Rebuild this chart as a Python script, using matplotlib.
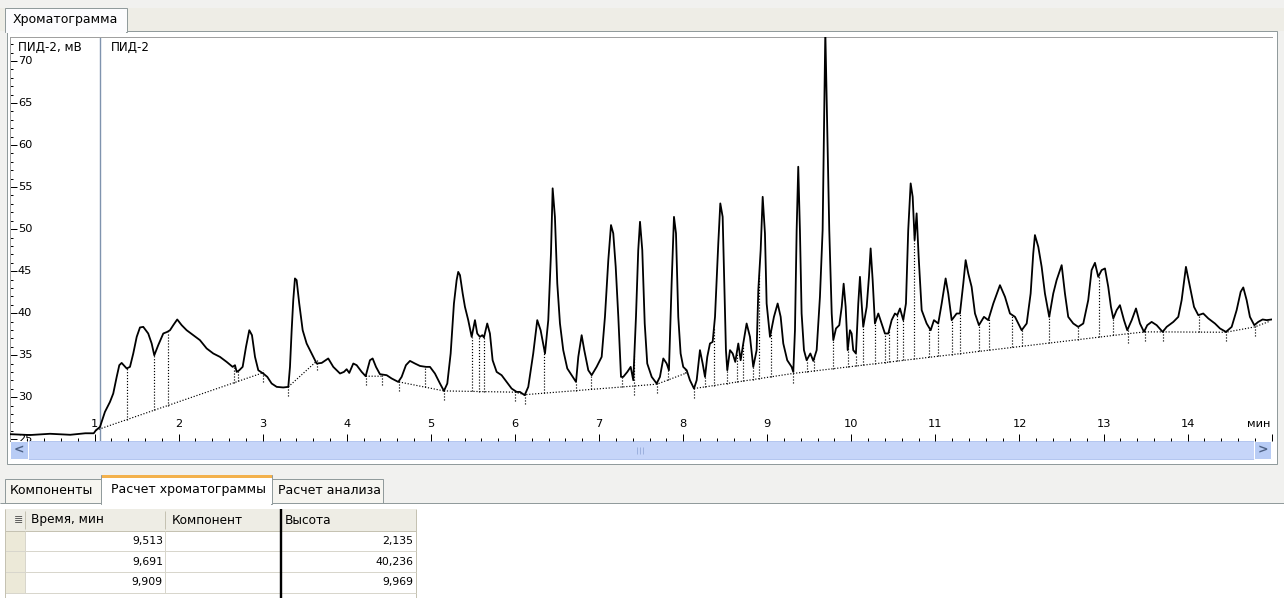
import numpy as np
import matplotlib
matplotlib.use("Agg")
import matplotlib.pyplot as plt
from matplotlib.patches import Rectangle
from matplotlib.transforms import blended_transform_factory

plt.rcParams['font.family'] = ['DejaVu Sans']

# ---------------- data ----------------
# detector ПИД-2 trace: retention time (min) and signal (mV)
time_min = [
    0.000, 0.230, 0.470, 0.710, 0.890, 0.990, 1.016, 1.064, 1.123, 1.183, 1.222, 1.263, 1.294, 1.322,
    1.382, 1.421, 1.460, 1.501, 1.540, 1.579, 1.638, 1.679, 1.710, 1.757, 1.817, 1.864, 1.897, 1.936,
    1.983, 2.036, 2.095, 2.174, 2.253, 2.333, 2.412, 2.491, 2.571, 2.642, 2.670, 2.690, 2.721, 2.761,
    2.801, 2.840, 2.872, 2.908, 2.947, 3.006, 3.054, 3.106, 3.166, 3.244, 3.304, 3.324, 3.344, 3.363,
    3.383, 3.403, 3.434, 3.475, 3.522, 3.582, 3.641, 3.701, 3.760, 3.779, 3.839, 3.919, 3.966, 3.998,
    4.029, 4.077, 4.117, 4.177, 4.224, 4.275, 4.307, 4.347, 4.394, 4.474, 4.533, 4.612, 4.652, 4.703,
    4.751, 4.810, 4.870, 4.941, 4.989, 5.048, 5.108, 5.155, 5.195, 5.235, 5.274, 5.306, 5.325, 5.346,
    5.378, 5.405, 5.444, 5.485, 5.524, 5.551, 5.583, 5.611, 5.631, 5.670, 5.702, 5.734, 5.782, 5.841,
    5.901, 5.960, 6.020, 6.059, 6.115, 6.158, 6.217, 6.265, 6.305, 6.357, 6.396, 6.428, 6.448, 6.475,
    6.503, 6.535, 6.574, 6.622, 6.674, 6.726, 6.753, 6.793, 6.824, 6.872, 6.912, 6.971, 7.031, 7.070,
    7.110, 7.142, 7.169, 7.198, 7.229, 7.261, 7.288, 7.336, 7.376, 7.407, 7.439, 7.466, 7.487, 7.514,
    7.543, 7.573, 7.626, 7.685, 7.724, 7.764, 7.804, 7.831, 7.863, 7.891, 7.915, 7.942, 7.970, 8.001,
    8.042, 8.081, 8.129, 8.161, 8.200, 8.232, 8.260, 8.287, 8.319, 8.351, 8.379, 8.418, 8.442, 8.470,
    8.489, 8.509, 8.525, 8.557, 8.589, 8.620, 8.656, 8.684, 8.715, 8.755, 8.795, 8.834, 8.874, 8.894,
    8.922, 8.946, 8.973, 8.993, 9.033, 9.080, 9.124, 9.160, 9.191, 9.238, 9.290, 9.310, 9.330, 9.350,
    9.369, 9.389, 9.409, 9.437, 9.469, 9.513, 9.548, 9.588, 9.627, 9.659, 9.691, 9.738, 9.767, 9.786,
    9.818, 9.857, 9.886, 9.909, 9.933, 9.957, 9.984, 10.004, 10.023, 10.055, 10.083, 10.103, 10.123,
    10.142, 10.183, 10.210, 10.230, 10.254, 10.281, 10.321, 10.361, 10.400, 10.440, 10.480, 10.519,
    10.547, 10.579, 10.618, 10.650, 10.677, 10.706, 10.730, 10.753, 10.777, 10.801, 10.837, 10.896,
    10.944, 10.983, 11.034, 11.075, 11.122, 11.153, 11.194, 11.253, 11.292, 11.332, 11.360, 11.391,
    11.431, 11.471, 11.518, 11.578, 11.629, 11.689, 11.768, 11.828, 11.887, 11.947, 12.026, 12.086,
    12.133, 12.164, 12.184, 12.224, 12.264, 12.303, 12.354, 12.402, 12.442, 12.502, 12.541, 12.580,
    12.640, 12.699, 12.759, 12.818, 12.858, 12.898, 12.937, 12.977, 13.017, 13.056, 13.088, 13.116,
    13.156, 13.195, 13.243, 13.282, 13.335, 13.386, 13.433, 13.481, 13.520, 13.572, 13.632, 13.703,
    13.751, 13.830, 13.889, 13.929, 13.980, 14.028, 14.076, 14.127, 14.186, 14.246, 14.325, 14.385,
    14.456, 14.524, 14.583, 14.631, 14.662, 14.702, 14.741, 14.793, 14.840, 14.892, 14.940, 15.000,
]
signal_mv = [
    25.60, 25.50, 25.65, 25.53, 25.71, 25.71, 26.07, 26.46, 28.25, 29.44, 30.44, 32.42, 33.81, 34.08,
    33.42, 33.61, 35.20, 37.18, 38.30, 38.37, 37.58, 36.39, 34.99, 36.19, 37.58, 37.77, 37.97, 38.57,
    39.25, 38.57, 37.97, 37.38, 36.79, 35.80, 35.20, 34.80, 34.20, 33.61, 33.81, 33.01, 33.21, 33.61,
    35.99, 37.97, 37.38, 34.80, 33.21, 32.82, 32.42, 31.63, 31.23, 31.16, 31.23, 33.61, 37.97, 41.55,
    44.13, 43.93, 41.15, 37.97, 36.39, 35.20, 34.01, 34.08, 34.49, 34.61, 33.61, 32.82, 33.01, 33.33,
    32.89, 34.01, 33.81, 33.01, 32.50, 34.40, 34.61, 33.61, 32.74, 32.62, 32.23, 31.82, 32.42, 33.81,
    34.32, 34.01, 33.72, 33.61, 33.61, 32.82, 31.63, 30.75, 31.63, 35.20, 41.15, 43.93, 44.91, 44.52,
    42.34, 40.75, 39.17, 37.18, 39.17, 37.58, 37.18, 37.38, 37.11, 38.77, 37.58, 34.40, 33.01, 32.62,
    31.82, 31.03, 30.63, 30.63, 30.24, 31.23, 35.20, 39.17, 37.97, 35.20, 39.17, 47.10, 54.85, 51.46,
    43.53, 38.77, 35.60, 33.42, 32.62, 31.82, 34.80, 37.38, 35.60, 33.21, 32.62, 33.61, 34.80, 39.56,
    46.31, 50.48, 49.49, 45.51, 39.56, 32.42, 32.42, 33.01, 33.61, 32.02, 39.56, 47.50, 50.87, 47.50,
    38.77, 34.01, 32.42, 31.63, 32.42, 34.61, 34.01, 33.21, 43.53, 51.46, 49.49, 39.56, 35.20, 33.61,
    33.21, 32.02, 31.03, 32.02, 35.60, 34.01, 32.42, 34.80, 36.39, 36.58, 39.56, 48.30, 53.06, 51.46,
    43.53, 35.60, 33.21, 35.60, 35.20, 34.20, 36.39, 34.40, 36.39, 38.77, 37.18, 33.61, 35.60, 42.74,
    47.50, 53.84, 49.49, 41.15, 37.18, 39.56, 41.15, 39.56, 36.39, 34.40, 33.61, 33.01, 37.97, 49.88,
    57.42, 49.88, 39.96, 35.60, 34.40, 35.10, 34.32, 35.60, 41.94, 49.88, 73.50, 49.88, 39.96, 36.79,
    38.18, 38.57, 40.75, 43.50, 40.75, 35.60, 37.97, 37.58, 35.60, 35.20, 41.15, 44.32, 41.15,
    38.37, 40.75, 44.32, 47.70, 43.93, 38.77, 39.96, 38.77, 37.58, 37.58, 39.17, 39.96,
    39.76, 40.56, 39.17, 41.15, 49.88, 55.44, 53.84, 48.69, 51.87, 46.70, 40.36, 38.77,
    37.97, 39.17, 38.77, 41.15, 44.13, 42.34, 39.17, 39.96, 39.96, 43.53, 46.31, 44.72,
    43.13, 39.96, 38.57, 39.56, 39.17, 41.15, 43.33, 41.94, 39.96, 39.56, 37.97, 38.77,
    42.34, 47.10, 49.29, 47.89, 45.51, 42.34, 39.56, 42.34, 43.93, 45.71, 42.34, 39.56,
    38.77, 38.37, 38.77, 41.55, 45.12, 45.99, 44.32, 45.12, 45.32, 43.13, 40.75, 39.37,
    40.36, 40.95, 39.17, 37.97, 39.17, 40.56, 38.77, 37.77, 38.57, 38.96, 38.57, 37.77,
    38.37, 38.96, 39.56, 41.55, 45.51, 43.13, 40.75, 39.76, 39.96, 39.37, 38.77, 38.18,
    37.77, 38.37, 40.36, 42.54, 43.06, 41.55, 39.56, 38.57, 38.96, 39.25, 39.17, 39.25,
]

# integration baseline vertices; NaN separates independent pieces
base_t = [1.016, 3.006, np.nan,
          3.304, 3.641, np.nan,
          4.224, 4.414, np.nan,
          4.620, 5.155, np.nan,
          5.155, 6.000, 6.118, 7.688, 8.041, np.nan,
          8.129, 9.303, 13.295, 13.493, 13.703, 14.456, 14.801, 14.980]
base_v = [26.07, 32.92, np.nan,
          31.23, 34.29, np.nan,
          32.50, 32.50, np.nan,
          31.82, 30.75, np.nan,
          30.75, 30.60, 30.30, 31.55, 32.89, np.nan,
          31.03, 32.82, 37.56, 37.77, 37.77, 37.73, 38.37, 39.05]

# peak boundaries: drop lines from the trace to the baseline
drop_times = [1.380, 1.710, 1.869, 2.658, 2.709, 4.929, 5.485, 5.575, 5.635, 6.350, 6.726,
              6.904, 7.269, 7.824, 8.023, 8.260, 8.367, 8.518, 8.636, 8.715, 8.834, 8.906,
              9.044, 9.469, 9.560, 9.786, 9.965, 10.055, 10.142, 10.281, 10.400, 10.448,
              10.539, 10.611, 10.749, 10.924, 11.031, 11.197, 11.292, 11.518, 11.634,
              11.911, 12.026, 12.348, 12.696, 12.949, 13.112, 14.137]
# baseline anchor points (valley marks)
anchor_times = [3.006, 3.304, 3.641, 4.224, 4.414, 4.620, 5.155, 6.000, 6.118, 7.419,
                7.689, 8.129, 9.303, 13.295, 13.493, 13.703, 14.456, 14.801]

# "Расчет хроматограммы" table
peak_times = [9.513, 9.691, 9.909]
peak_heights = [2.135, 40.236, 9.969]

x_ticks = list(range(1, 15))
y_ticks = [25, 30, 35, 40, 45, 50, 55, 60, 65, 70]

# ---------------- helpers ----------------
bt = np.array(base_t, float)
bv = np.array(base_v, float)
pieces = []
start = 0
for i in range(len(bt) + 1):
    if i == len(bt) or np.isnan(bt[i]):
        pieces.append((bt[start:i], bv[start:i]))
        start = i + 1


def baseline_at(t):
    for pt, pv in pieces:
        if pt[0] - 1e-9 <= t <= pt[-1] + 1e-9:
            return float(np.interp(t, pt, pv))
    best = min(pieces, key=lambda p: min(abs(p[0][0] - t), abs(p[0][-1] - t)))
    return float(np.interp(t, best[0], best[1]))


tm = np.array(time_min, float)
sig = np.array(signal_mv, float)
# apex of each tabulated peak = baseline + reported height
for t, h in zip(peak_times, peak_heights):
    k = int(np.argmin(np.abs(tm - t)))
    tm[k] = t
    sig[k] = baseline_at(t) + h

# ---------------- figure ----------------
W, H = 1284, 598
fig = plt.figure(figsize=(W / 100, H / 100), dpi=100)

ui = fig.add_axes([0, 0, 1, 1], zorder=0)
ui.set_xlim(0, W)
ui.set_ylim(H, 0)
ui.axis('off')

GRAY_EDGE = '#919B9C'
BG = '#F1F1EF'
PX = 0.72  # one pixel in points


def box(x0, y0, x1, y1, fc, ec='none', lw=1.0, z=1):
    ui.add_patch(Rectangle((x0, y0), x1 - x0, y1 - y0, facecolor=fc, edgecolor=ec,
                           linewidth=lw * PX, zorder=z))


def hline(x0, x1, y, color, lw=1.0, z=2):
    ui.plot([x0, x1], [y, y], color=color, lw=lw * PX, zorder=z, solid_capstyle='butt')


def vline(x, y0, y1, color, lw=1.0, z=2):
    ui.plot([x, x], [y0, y1], color=color, lw=lw * PX, zorder=z, solid_capstyle='butt')


FS_UI = 9       # tab captions
FS_HDR = 8.7    # grid header
FS_NUM = 7.8    # numbers in the grid
FS_AX = 8.2     # axis annotations

box(0, 0, W, H, BG, z=0)
# top tab bar
box(0, 8, W, 31, '#EEEDE6', z=0.5)
box(7, 31, 1277, 464, 'white', GRAY_EDGE, z=1)
box(5, 8, 127, 32, '#FCFCFE', GRAY_EDGE, z=2)
hline(6, 126, 31.5, '#FCFCFE', lw=2, z=3)
ui.text(13, 20, 'Хроматограмма', fontsize=FS_UI, ha='left', va='center', zorder=4)

# horizontal scrollbar under the chart
box(10, 441, 1271, 459, '#C6D5F9', '#B4C6EF', z=2)
for x0, x1, arrow in ((10, 28, '<'), (1254, 1271, '>')):
    box(x0, 441, x1, 459, '#B8CCF5', 'white', z=3)
    ui.text((x0 + x1) / 2, 450, arrow, fontsize=9, fontweight='bold', color='#4D6185',
            ha='center', va='center', zorder=4)
for gx in (637, 640, 643):
    vline(gx, 447, 454, '#9DB1DE', z=4)

# bottom tab strip
box(5, 479, 101, 503, '#F6F5F0', GRAY_EDGE, z=2)
box(272, 479, 383, 503, '#F6F5F0', GRAY_EDGE, z=2)
hline(0, W, 503, GRAY_EDGE, z=2)
box(101, 475, 272, 504, 'white', GRAY_EDGE, z=3)
box(101.5, 475, 271.5, 478, '#F3B14C', 'none', z=4)
hline(102, 271, 503.5, 'white', lw=2, z=4)
ui.text(10, 491, 'Компоненты', fontsize=FS_UI, ha='left', va='center', zorder=5)
ui.text(111, 489, 'Расчет хроматограммы', fontsize=FS_UI, ha='left', va='center', zorder=5)
ui.text(278, 491, 'Расчет анализа', fontsize=FS_UI, ha='left', va='center', zorder=5)

# results grid
box(0, 504, W, H, 'white', z=1)
tbl_x = [5, 25, 165, 281, 416]
row_y = [509, 531, 551, 572, 593]
box(5, row_y[0], 416, row_y[1], '#EEEDE5', z=2)
hline(5, 416, row_y[1], '#C5C2B2', z=3)
for x in tbl_x[1:3]:
    vline(x, row_y[0] + 2, row_y[1] - 2, '#C5C2B2', z=3)
vline(tbl_x[3], row_y[0], H, 'black', lw=2.4, z=4)
vline(tbl_x[-1], row_y[0], H, '#C5C2B2', z=3)
ui.text(18.5, 520, '≣', fontsize=8, ha='center', va='center', color='#555555', zorder=4)
ui.text(31, 520, 'Время, мин', fontsize=FS_HDR, ha='left', va='center', zorder=4)
ui.text(172, 520, 'Компонент', fontsize=FS_HDR, ha='left', va='center', zorder=4)
ui.text(285, 520, 'Высота', fontsize=FS_HDR, ha='left', va='center', zorder=4)
for i, (t, h) in enumerate(zip(peak_times, peak_heights)):
    y0, y1 = row_y[i + 1], row_y[i + 2]
    box(5, y0, 25, y1, '#ECE9D8', z=2)
    hline(5, 416, y1, '#D8D6CC', z=3)
    vline(tbl_x[2], y0, y1, '#D8D6CC', z=3)
    vline(tbl_x[1], y0, y1, '#D8D6CC', z=3)
    yc = (y0 + y1) / 2
    ui.text(163, yc, f'{t:.3f}'.replace('.', ','), fontsize=FS_NUM, ha='right', va='center', zorder=4)
    ui.text(413, yc, f'{h:.3f}'.replace('.', ','), fontsize=FS_NUM, ha='right', va='center', zorder=4)
vline(5, row_y[0], H, '#C5C2B2', z=3)

# ---------------- chromatogram axes ----------------
left_px, right_px, top_px, bot_px = 10.5, 1271.7, 37.3, 440.5
ax = fig.add_axes([left_px / W, 1 - bot_px / H, (right_px - left_px) / W, (bot_px - top_px) / H],
                  zorder=2)
ax.set_xlim(0, 15)
ax.set_ylim(24.85, 72.82)
ax.set_facecolor('white')
for side in ('bottom', 'right'):
    ax.spines[side].set_visible(False)
for side in ('top', 'left'):
    ax.spines[side].set_color('#A0A0A0')
    ax.spines[side].set_linewidth(PX)

ax.plot(tm, sig, color='black', lw=1.3, zorder=4, solid_joinstyle='round')
dot = dict(color='black', lw=0.85, linestyle=(0, (1, 1.5)), zorder=3)
ax.plot(bt, bv, **dot)
for t in drop_times:
    top = float(np.interp(t, tm, sig))
    ax.plot([t, t], [baseline_at(t), top], **dot)
for t in anchor_times:
    b = baseline_at(t)
    top = max(float(np.interp(t, tm, sig)), b + 0.3)
    ax.plot([t, t], [b - 1.1, top], **dot)

# marker line at the start of the run
ax.axvline(1.064, color='#7F93AE', lw=1.0, zorder=2)

# ticks drawn inside the plotting area
ax.set_xticks(x_ticks + [15])
ax.set_xticks(np.arange(0, 15.01, 0.2), minor=True)
ax.set_yticks(y_ticks)
ax.set_yticks(np.arange(25, 73, 1), minor=True)
ax.tick_params(axis='both', which='both', direction='in', labelbottom=False, labelleft=False,
               colors='black', width=PX)
ax.tick_params(axis='x', which='major', length=4.8)
ax.tick_params(axis='x', which='minor', length=2.4)
ax.tick_params(axis='y', which='major', length=4.8)
ax.tick_params(axis='y', which='minor', length=2.4)

xtr = ax.get_xaxis_transform()
for t in x_ticks:
    ax.text(t, 0.04, str(t), transform=xtr, fontsize=FS_AX, ha='center', va='center', zorder=5)
ax.text(0.999, 0.04, 'мин', transform=ax.transAxes, fontsize=FS_AX, ha='right', va='center',
        zorder=5)

ytr = blended_transform_factory(ax.transAxes, ax.transData)
for v in y_ticks:
    ax.text(0.0058, v, str(v), transform=ytr, fontsize=FS_AX, ha='left', va='center', zorder=5,
            clip_on=True)
ax.text(0.006, 0.975, 'ПИД-2, мВ', transform=ax.transAxes, fontsize=8.6, ha='left', va='center',
        zorder=5)
ax.text(0.0795, 0.975, 'ПИД-2', transform=ax.transAxes, fontsize=8.6, ha='left', va='center',
        zorder=5)

fig.savefig('out.png', dpi=100)
